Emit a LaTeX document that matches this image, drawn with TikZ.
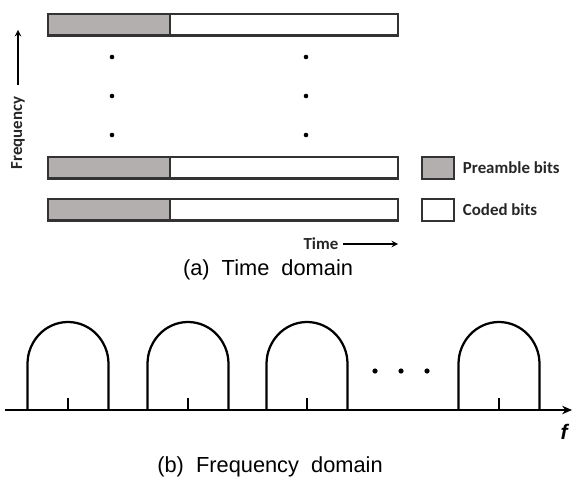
\documentclass[tikz,border=0pt]{standalone}
\usepackage{fontspec}
\setmainfont{Liberation Sans}
\newfontfamily\labelfont{Carlito}
\usetikzlibrary{arrows.meta}

\definecolor{preamblegray}{RGB}{180,175,175}

\tikzset{
  bar/.style={line width=1.6pt, draw=black!80},
  preamble/.style={bar, fill=preamblegray},
  lbl/.style={font=\labelfont\bfseries\fontsize{12}{14}\selectfont, text=black!85},
  caption/.style={font=\fontsize{15.5}{18}\selectfont},
  spec/.style={line width=1.6pt, line join=round},
}

\begin{document}
\begin{tikzpicture}[x=0.025cm, y=-0.025cm, >=stealth]
\useasboundingbox (0,0) rectangle (576,484);

% Time domain: subcarrier bars
\foreach \y in {14,157,199} {
    \draw[preamble] (48,\y) rectangle (170,\y+21.5);
    \draw[bar] (170,\y) rectangle (398,\y+21.5);
}

% Vertical dots
\foreach \x in {112,306}
    \foreach \y in {57,96,135}
        \fill (\x,\y) circle (2.3);

% Axes labels
\node[lbl, rotate=90, inner sep=8pt] (freq) at (18,133) {Frequency};
\coordinate (freqtip) at (18,30);
\draw[->, line width=1pt] (freq.east) -- (freqtip);

\node[lbl] (time) at (321,244) {Time};
\coordinate (timetip) at (398,244);
\draw[->, line width=1pt] (time.east) -- (timetip);

% Legend
\draw[preamble] (422,157) rectangle (454,179);
\node[lbl, anchor=west] (lpre) at (458,168) {Preamble bits};
\draw[bar] (422,199) rectangle (454,221);
\node[lbl, anchor=west] (lcod) at (458,210) {Coded bits};

% Caption (a)
\node[caption] (capa) at (268,270) {(a)~~Time~~domain};

% Frequency domain: axis
\coordinate (fstart) at (5,410);
\coordinate (fend) at (572,410);
\draw[spec, -{Stealth[length=7pt, width=6pt]}] (fstart) -- (fend);
\node[font=\bfseries\itshape\fontsize{15}{18}\selectfont] (flabel) at (564,432) {f};

% Spectrum lobes
\foreach \c in {68,188,307,499} {
    \draw[spec] (\c-40.5,410) -- (\c-40.5,364)
        arc (180:360:40.5 and 42) -- (\c+40.5,410);
    \draw[spec] (\c,410) -- (\c,398);
}

% Dots between lobes
\foreach \x in {375,401,427}
    \fill (\x,371) circle (2.6);

% Caption (b)
\node[caption] (capb) at (270,467) {(b)~~Frequency~~domain};
\end{tikzpicture}
\end{document}
